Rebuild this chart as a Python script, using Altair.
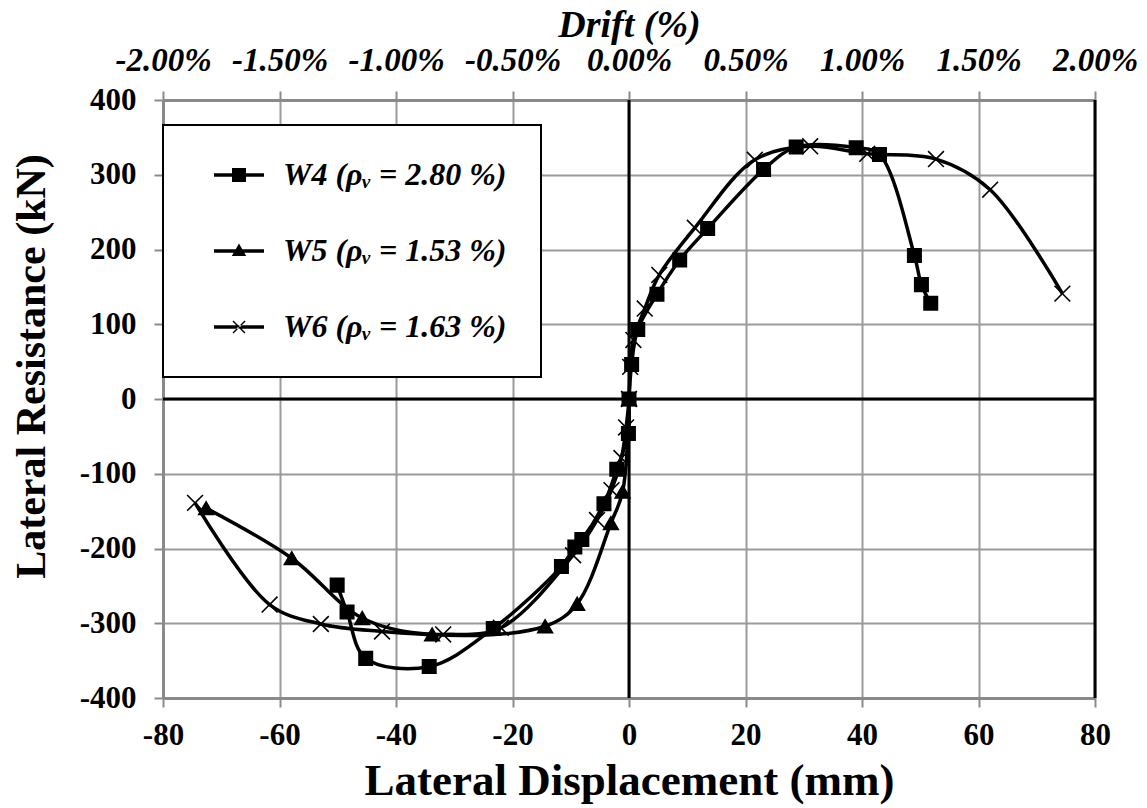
import altair as alt
import pandas as pd

# ---------------- data ----------------
series_names = ["W4 (ρᵥ = 2.80 %)", "W5 (ρᵥ = 1.53 %)", "W6 (ρᵥ = 1.63 %)"]

w4_x = [-50.1, -48.4, -45.2, -34.3, -23.3, -11.6, -9.3, -8.1, -4.3, -2.1, -0.1, 0.0,
        0.45, 1.5, 4.8, 8.7, 13.5, 23.1, 28.7, 39.0, 43.0, 49.0, 50.2, 51.8]
w4_y = [-249, -285, -347, -358, -307, -224, -198, -188, -140, -94, -46, 0,
        46, 93, 140, 186, 228, 307, 337, 336, 327, 192, 153, 128]

w5_x = [-72.6, -57.9, -45.8, -33.8, -14.4, -8.9, -3.1, -1.1, 0.0]
w5_y = [-146, -213, -293, -315, -304, -274, -166, -124, 0]

w6_x = [-74.5, -61.7, -52.9, -42.4, -31.9, -22.0, -9.6, -5.5, -3.0, -1.3, -0.5, 0.0,
        0.2, 0.75, 2.7, 5.2, 11.3, 21.6, 31.1, 40.9, 52.7, 62.0, 74.4]
w6_y = [-139, -275, -301, -311, -315, -306, -209, -162, -122, -79, -38, 0,
        43, 79, 121, 166, 229, 320, 338, 328, 321, 280, 141]

x_ticks = [-80, -60, -40, -20, 0, 20, 40, 60, 80]
y_ticks = [-400, -300, -200, -100, 0, 100, 200, 300, 400]
drift_ticks = [-2.0, -1.5, -1.0, -0.5, 0.0, 0.5, 1.0, 1.5, 2.0]
ref_x = [0, 80]
ref_y = [0]

rows = []
for name, xs, ys in zip(series_names, [w4_x, w5_x, w6_x], [w4_y, w5_y, w6_y]):
    for i, (xv, yv) in enumerate(zip(xs, ys)):
        rows.append({"series": name, "disp": xv, "force": yv, "order": i})
df = pd.DataFrame(rows)

FONT = "Liberation Serif"
GRID = "#9a9a9a"
AX = "#8a8a8a"

xscale = alt.Scale(domain=[-80, 80], nice=False, zero=False)
yscale = alt.Scale(domain=[-400, 400], nice=False, zero=False)
neg_int = "(datum.value < 0 ? '-' : '') + format(abs(datum.value), 'd')"

x_axis = alt.Axis(values=x_ticks, title="Lateral Displacement (mm)", labelExpr=neg_int,
                  grid=True, gridColor=GRID, gridWidth=2, domainColor=AX, domainWidth=3,
                  tickColor=AX, tickSize=9, tickWidth=2, labelFont=FONT, labelFontSize=31,
                  labelFontWeight="bold", labelColor="black", labelPadding=13,
                  labelOverlap=False, labelFlush=False,
                  titleFont=FONT, titleFontSize=45, titleFontWeight="bold",
                  titleColor="black", titlePadding=8)
y_axis = alt.Axis(values=y_ticks, title="Lateral Resistance (kN)", labelExpr=neg_int,
                  grid=True, gridColor=GRID, gridWidth=2, domainColor=AX, domainWidth=3,
                  tickColor=AX, tickSize=9, tickWidth=2, labelFont=FONT, labelFontSize=31,
                  labelFontWeight="bold", labelColor="black", labelPadding=18,
                  labelOverlap=False, labelFlush=False,
                  titleFont=FONT, titleFontSize=42, titleFontWeight="bold",
                  titleColor="black", titlePadding=26, titleY=266)

x_enc = alt.X("disp:Q", scale=xscale, axis=x_axis)
y_enc = alt.Y("force:Q", scale=yscale, axis=y_axis)

marker_shapes = ["square", "triangle-up", "M-1,-1L1,1M1,-1L-1,1"]
marker_sizes = [180, 250, 170]
legend_paths = [
    "M-2.5,-0.18H2.5V0.18H-2.5ZM-0.7,-0.7H0.7V0.7H-0.7Z",
    "M-2.5,-0.18H2.5V0.18H-2.5ZM0,-0.75L0.72,0.5H-0.72Z",
    "M-2.5,-0.18H2.5V0.18H-2.5Z"
    "M-0.65,-0.55L-0.55,-0.65L0.65,0.55L0.55,0.65Z"
    "M0.65,-0.55L0.55,-0.65L-0.65,0.55L-0.55,0.65Z",
]

zero_v = alt.Chart(pd.DataFrame({"disp": ref_x})).mark_rule(color="black", strokeWidth=3).encode(x=x_enc)
zero_h = alt.Chart(pd.DataFrame({"force": ref_y})).mark_rule(color="black", strokeWidth=3).encode(y=y_enc)

lines = alt.Chart(df).mark_line(interpolate="catmull-rom", color="black", strokeWidth=3.5).encode(
    x=x_enc, y=y_enc, detail="series:N", order="order:Q")

points = alt.Chart(df).mark_point(filled=True, fill="black", stroke="black",
                                  strokeWidth=1.6, opacity=1).encode(
    x=x_enc, y=y_enc,
    shape=alt.Shape("series:N", scale=alt.Scale(domain=series_names, range=marker_shapes), legend=None),
    size=alt.Size("series:N", scale=alt.Scale(domain=series_names, range=marker_sizes), legend=None),
)

legend_layer = alt.Chart(df).transform_filter("false").mark_point(
    filled=True, fill="black", stroke="black", strokeWidth=1.6, opacity=1).encode(
    x=x_enc, y=y_enc,
    shape=alt.Shape("series:N", scale=alt.Scale(domain=series_names, range=legend_paths),
                    legend=alt.Legend(orient="none", legendX=0, legendY=25, title=None,
                                      strokeColor="black", fillColor="white",
                                      padding=34, symbolSize=400, symbolOffset=26,
                                      symbolStrokeWidth=1.6, symbolFillColor="black",
                                      symbolStrokeColor="black", labelOffset=28,
                                      labelFont=FONT, labelFontSize=32, labelFontWeight="bold",
                                      labelFontStyle="italic", labelColor="black",
                                      labelLimit=500, rowPadding=44)),
)

main = alt.layer(zero_v, zero_h, lines, points, legend_layer).resolve_scale(
    shape="independent", size="independent")

top = alt.Chart(pd.DataFrame({"drift": drift_ticks})).mark_tick(opacity=0).encode(
    x=alt.X("drift:Q", scale=alt.Scale(domain=[-2, 2], nice=False, zero=False),
            axis=alt.Axis(orient="top", values=drift_ticks, title="Drift (%)",
                          labelExpr="(datum.value < 0 ? '-' : '') + format(abs(datum.value), '.2f') + '%'",
                          grid=False, domainColor=AX, domainWidth=3, tickColor=AX, tickSize=9,
                          tickWidth=2, labelFont=FONT, labelFontSize=33, labelFontWeight="bold",
                          labelFontStyle="italic", labelColor="black", labelPadding=14,
                          labelOverlap=False, labelFlush=False,
                          titleFont=FONT, titleFontSize=38, titleFontWeight="bold",
                          titleFontStyle="italic", titleColor="black", titlePadding=0)))

chart = alt.layer(main, top).resolve_scale(x="independent").properties(
    width=932, height=598,
    autosize=alt.AutoSizeParams(type="none"),
    padding={"left": 163, "top": 100, "right": 52, "bottom": 110},
    background="white",
).configure_view(stroke=None).configure_legend(strokeWidth=2)

chart.save("out.html", embed_options={"renderer": "svg", "actions": False})
